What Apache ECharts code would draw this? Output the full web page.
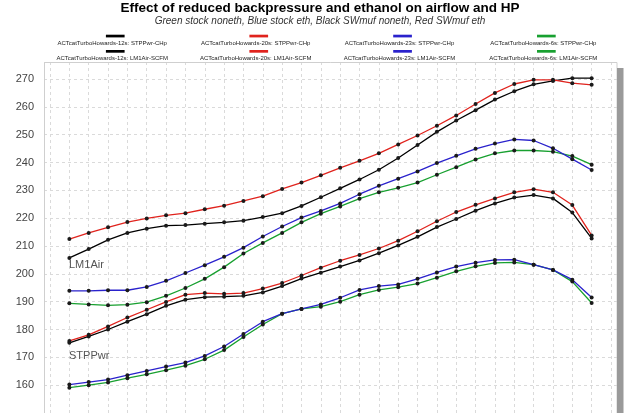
<!DOCTYPE html>
<html>
<head>
<meta charset="utf-8">
<script src="https://cdn.jsdelivr.net/npm/echarts@6/dist/echarts.min.js"></script>
<style>html,body{margin:0;padding:0;background:#fff}#c{width:640px;height:413px}</style>
</head>
<body>
<div id="c"></div>
<script>
// Step index along the x axis (28 test points)
const steps = [0,1,2,3,4,5,6,7,8,9,10,11,12,13,14,15,16,17,18,19,20,21,22,23,24,25,26,27];
const yTicks = [160,170,180,190,200,210,220,230,240,250,260,270];

// LM1Air-SCFM
const air12 = [205.7,208.9,212.2,214.7,216.2,217.3,217.5,218.0,218.5,219.1,220.4,221.8,224.4,227.5,230.7,233.9,237.4,241.6,246.3,251.0,255.1,258.8,262.6,265.6,268.1,269.3,270.3,270.3];
const air20 = [212.5,214.7,216.7,218.6,219.9,221.0,221.8,223.2,224.5,226.2,227.9,230.5,232.8,235.4,238.1,240.6,243.3,246.5,249.7,253.2,256.9,261.0,265.0,268.2,269.7,269.7,268.5,267.9];
const air23 = [193.9,193.9,194.1,194.1,195.3,197.5,200.3,203.1,206.1,209.4,213.4,217.0,220.2,222.6,225.3,228.6,231.6,234.2,236.8,239.8,242.4,244.9,246.8,248.3,247.9,245.1,241.2,237.3];
const air6  = [189.4,189.0,188.7,188.9,189.8,192.1,194.9,198.2,202.4,207.3,211.1,214.7,218.5,221.6,224.2,227.0,229.3,230.9,232.8,235.6,238.3,241.1,243.3,244.3,244.3,243.9,242.3,239.2];

// STPPwr-CHp
const pwr12 = [175.2,177.5,180.0,182.8,185.5,188.5,190.7,191.6,191.8,192.1,193.3,195.6,198.3,200.4,202.6,204.8,207.4,210.2,213.3,216.8,219.7,222.7,225.3,227.4,228.3,227.1,222.0,212.7];
const pwr20 = [175.9,178.1,181.1,184.3,187.1,189.9,192.5,193.1,192.8,193.1,194.7,196.7,199.4,202.2,204.7,206.8,209.1,211.9,215.3,218.9,222.2,224.8,227.1,229.3,230.4,229.3,224.7,213.8];
const pwr23 = [160.2,161.1,162.0,163.6,165.1,166.7,168.1,170.5,173.9,178.4,182.8,185.7,187.4,189.0,191.4,194.2,195.6,196.2,198.2,200.5,202.6,204.0,205.0,205.1,203.3,201.4,197.9,191.5];
const pwr6  = [159.1,160.0,161.0,162.5,163.9,165.4,167.0,169.3,172.6,177.3,181.8,185.7,187.4,188.2,190.0,192.5,194.2,195.2,196.5,198.6,200.9,202.7,203.9,204.1,203.3,201.4,197.2,189.5];

const runs = ['ACTcatTurboHowards-12s','ACTcatTurboHowards-20s','ACTcatTurboHowards-23s','ACTcatTurboHowards-6s'];
const quantities = ['STPPwr-CHp','LM1Air-SCFM'];
const titleText = 'Effect of reduced backpressure and ethanol on airflow and HP';
const subText = 'Green stock noneth, Blue stock eth, Black SWmuf noneth, Red SWmuf eth';

const colors = ['#000000','#e0231d','#2a22cc','#18a030'];
const FONT = "'Liberation Sans', Arial, sans-serif";

const chart = echarts.init(document.getElementById('c'), null, {renderer:'canvas'});

function mk(name, vals, color){
  return {
    name: name, type:'line', xAxisIndex:0, yAxisIndex:0,
    data: vals.map((v,i)=>[steps[i], v]),
    symbol:'circle', symbolSize:4, showSymbol:true,
    lineStyle:{color:color, width:1.3},
    itemStyle:{color:'#1a1a1a', borderWidth:0},
    emphasis:{disabled:true}, animation:false, z:3
  };
}

const series = [
  mk(runs[3]+': '+quantities[1], air6, colors[3]),
  mk(runs[2]+': '+quantities[1], air23, colors[2]),
  mk(runs[0]+': '+quantities[1], air12, colors[0]),
  mk(runs[1]+': '+quantities[1], air20, colors[1]),
  mk(runs[3]+': '+quantities[0], pwr6, colors[3]),
  mk(runs[2]+': '+quantities[0], pwr23, colors[2]),
  mk(runs[0]+': '+quantities[0], pwr12, colors[0]),
  mk(runs[1]+': '+quantities[0], pwr20, colors[1])
];

const graphics = [
  {type:'text', left:'center', top:1.5, style:{text:titleText, font:'bold 13.5px '+FONT, fill:'#000'}},
  {type:'text', left:'center', top:16, style:{text:subText, font:'italic 10px '+FONT, fill:'#333'}},
  {type:'rect', shape:{x:44.5, y:62.5, width:572.5, height:360}, style:{fill:null, stroke:'#cfcfcf', lineWidth:1}, z:1},
  {type:'rect', shape:{x:617, y:68, width:6.5, height:345}, style:{fill:'#9a9a9a'}, z:1},
  {type:'text', x:69, y:264.5, style:{text:'LM1Air', font:'11px '+FONT, fill:'#555', verticalAlign:'middle'}, z:10},
  {type:'text', x:69, y:356, style:{text:'STPPwr', font:'11px '+FONT, fill:'#555', verticalAlign:'middle'}, z:10}
];
const colCenters = [112.2, 255.7, 399.5, 543.3];
const rowBarY = [34.7, 50.0];
const rowTextY = [43.3, 58.3];
for (let c=0;c<4;c++){
  for (let r=0;r<2;r++){
    graphics.push({type:'rect', shape:{x:colCenters[c]+3-9.3, y:rowBarY[r], width:18.7, height:2.7}, style:{fill:colors[c]}});
    graphics.push({type:'text', x:colCenters[c], y:rowTextY[r], style:{text:runs[c]+': '+quantities[r], font:'6px '+FONT, fill:'#222', align:'center', verticalAlign:'middle'}});
  }
}

chart.setOption({
  animation:false,
  backgroundColor:'#fff',
  grid:[
    {left:50, right:29, top:62, height:372.5, containLabel:false},
    {left:44, right:23, top:62, height:372.5, containLabel:false}
  ],
  xAxis:[
    {type:'value', gridIndex:0, min:-1, max:28, interval:1,
     axisLine:{show:false}, axisTick:{show:false}, axisLabel:{show:false},
     splitLine:{show:true, lineStyle:{color:'#dadada', type:[3,3], width:1}}},
    {type:'value', gridIndex:1, min:0, max:1, show:false, splitLine:{show:false}}
  ],
  yAxis:[
    {type:'value', gridIndex:0, min:150, max:276.1, interval:10,
     axisLine:{show:false}, axisTick:{show:false}, axisLabel:{show:false}, splitLine:{show:false}},
    {type:'value', gridIndex:1, min:150, max:276.1, interval:10,
     axisLine:{show:false}, axisTick:{show:false},
     axisLabel:{show:true, showMaxLabel:false, margin:10, fontSize:11, color:'#444', fontFamily:FONT,
       formatter:(v)=> yTicks.indexOf(v)>=0 ? String(v) : ''},
     splitLine:{show:true, lineStyle:{color:'#dadada', type:[3,3], width:1}}}
  ],
  graphic: graphics,
  series: series
});
</script>
</body>
</html>
